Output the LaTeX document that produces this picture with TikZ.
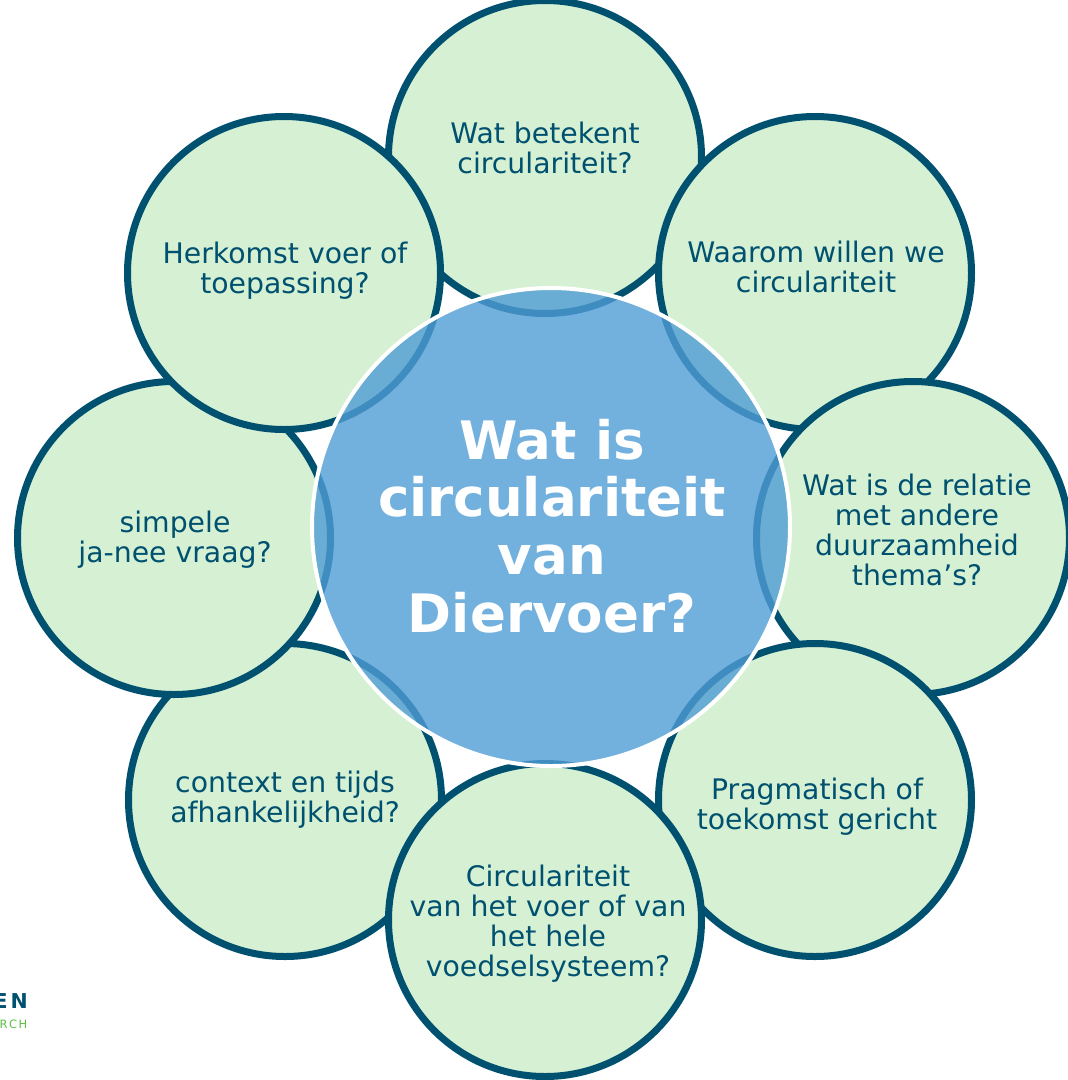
\documentclass[tikz,border=0pt]{standalone}
\usepackage{fontspec}
\setmainfont{DejaVu Sans}
\definecolor{ring}{HTML}{00506F}
\definecolor{leaf}{HTML}{D5F0D3}
\definecolor{hubblue}{HTML}{4F9CD5}
\definecolor{logogreen}{HTML}{5DBB46}
\begin{document}
\begin{tikzpicture}[x=1pt,y=-1pt,
  bubble/.style={circle, draw=ring, line width=7pt, fill=leaf, minimum size=313pt, inner sep=0pt},
  qtext/.style={text=ring, align=center, inner sep=0pt, text height=20pt, text depth=6pt,
                font=\fontsize{28.3}{30}\selectfont},
  hubcircle/.style={circle, fill=hubblue, fill opacity=0.8, draw=white, line width=4pt,
                minimum size=478pt, inner sep=0pt},
  hubtext/.style={text=white, align=center, inner sep=0pt, text height=40pt, text depth=13pt,
                font=\bfseries\fontsize{53}{57.6}\selectfont},
]
\useasboundingbox (0,0) rectangle (1068,1080);
% outer circles, in stacking order
\node[bubble] (ct)  at (545,157) {};
\node[bubble] (ctr) at (815,273) {};
\node[bubble] (cr)  at (913,538) {};
\node[bubble] (cbr) at (815,800) {};
\node[bubble] (cbl) at (285,800) {};
\node[bubble] (cb)  at (545,920) {};
\node[bubble] (cl)  at (174,538) {};
\node[bubble] (ctl) at (284,273) {};
% texts
\node[qtext] (tt)  at (545,166.5) {Wat betekent\\circulariteit?};
\node[qtext] (ttr) at (816,285.5) {Waarom willen we\\circulariteit};
\node[qtext] (tr)  at (917,578.5) {Wat is de relatie\\met andere\\duurzaamheid\\thema’s?};
\node[qtext] (tbr) at (817,822.5) {Pragmatisch of\\toekomst gericht};
\node[qtext] (tb)  at (548,969.5) {Circulariteit\\van het voer of van\\het hele\\voedselsysteem?};
\node[qtext] (tbl) at (285,815.5) {context en tijds\\afhankelijkheid?};
\node[qtext] (tl)  at (175,555.5) {simpele\\ja-nee vraag?};
\node[qtext] (ttl) at (285,286.5) {Herkomst voer of\\toepassing?};
% hub
\node[hubcircle] (hub) at (551,527) {};
\node[hubtext] (hubt) at (552,618.5) {Wat is\\circulariteit\\van\\Diervoer?};
% cropped logo
\node[anchor=base east, inner sep=0pt, text=ring,
      font=\bfseries\fontsize{20.5}{20.5}\selectfont] (logoa) at (28,1008) {E\kern3pt N};
\node[anchor=base east, inner sep=0pt, text=logogreen,
      font=\fontsize{11.5}{11.5}\selectfont] (logob) at (27.5,1028) {R\kern1.5pt C\kern1.5pt H};
\end{tikzpicture}
\end{document}
